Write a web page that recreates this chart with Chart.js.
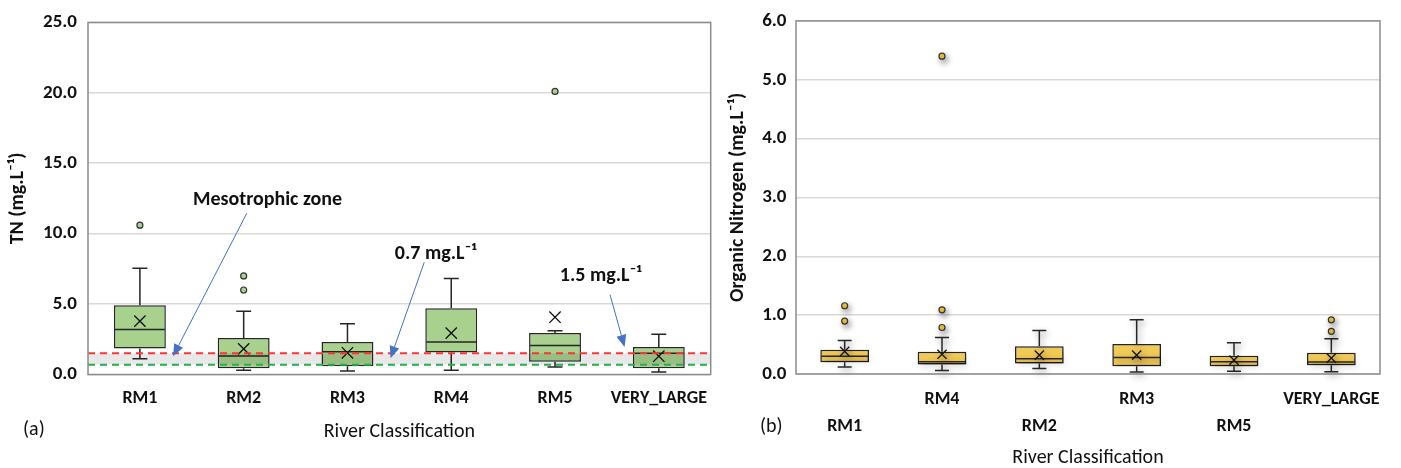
<!DOCTYPE html>
<html>
<head>
<meta charset="utf-8">
<script src="https://cdn.jsdelivr.net/npm/chart.js@4.4.1/dist/chart.umd.min.js"></script>
<style>
  html, body { margin: 0; padding: 0; background: #fff; }
  #wrap { position: relative; width: 1401px; height: 468px; overflow: hidden; }
  .panel { position: absolute; top: 0; height: 468px; }
  #left { left: 0; width: 720px; }
  #right { left: 720px; width: 681px; }
  .tag { position: absolute; font: 20px Carlito, Lato, sans-serif; color: #111; line-height: 24px; }
</style>
</head>
<body>
<div id="wrap">
  <div class="panel" id="left"><canvas id="tnChart"></canvas></div>
  <div class="panel" id="right"><canvas id="onChart"></canvas></div>
  <div class="tag" style="left:23px;top:416px">(a)</div>
  <div class="tag" style="left:760px;top:413px">(b)</div>
</div>
<script>
const FONT = 'Carlito, Lato, sans-serif';

// (a) total nitrogen, box plot stats per class
const tnCategories = ['RM1', 'RM2', 'RM3', 'RM4', 'RM5', 'VERY_LARGE'];
const tnMin    = [1.11, 0.30, 0.25, 0.30, 0.53, 0.18];
const tnQ1     = [1.85, 0.44, 0.58, 1.56, 0.90, 0.44];
const tnMedian = [3.20, 1.32, 1.61, 2.31, 2.06, 1.51];
const tnQ3     = [4.92, 2.59, 2.31, 4.70, 2.94, 1.96];
const tnMax    = [7.55, 4.49, 3.61, 6.82, 3.11, 2.85];
const tnMean   = [3.79, 1.82, 1.54, 2.94, 4.07, 1.30];
const tnOutliers = [[10.6], [7.0, 6.0], [], [], [20.1], []];
const tnTicks = [0, 5, 10, 15, 20, 25];
const tnZone = [0.7, 1.5];   // mesotrophic zone limits

// (b) organic nitrogen
const onCategories = ['RM1', 'RM4', 'RM2', 'RM3', 'RM5', 'VERY_LARGE'];
const onLabelRow = [2, 1, 2, 1, 2, 1];
const onMin    = [0.12, 0.06, 0.095, 0.035, 0.045, 0.04];
const onQ1     = [0.20, 0.16, 0.18, 0.13, 0.13, 0.15];
const onMedian = [0.30, 0.21, 0.26, 0.28, 0.21, 0.205];
const onQ3     = [0.41, 0.38, 0.47, 0.51, 0.31, 0.36];
const onMax    = [0.57, 0.62, 0.74, 0.92, 0.53, 0.60];
const onMean   = [0.385, 0.335, 0.32, 0.32, 0.235, 0.27];
const onOutliers = [[1.16, 0.90], [5.40, 1.09, 0.79], [], [], [], [0.92, 0.725]];
const onTicks = [0, 1, 2, 3, 4, 5, 6];

// callouts on panel (a), in [category index, value]
const tnNotes = [
  { text: 'Mesotrophic zone', at: [1.23, 12.4], from: [1.03, 11.45], to: [0.32, 1.30] },
  { text: '0.7 mg.L\u207B\u00B9', at: [2.85, 8.55], from: [2.74, 7.97], to: [2.415, 1.16] },
  { text: '1.5 mg.L\u207B\u00B9', at: [4.44, 7.0], from: [4.53, 5.67], to: [4.67, 1.96] }
];

function boxDatasets(q1, q3, mean, outliers, fill, dot, xr) {
  const sets = [
    { type: 'bar', data: q1.map((v, i) => [v, q3[i]]), backgroundColor: fill,
      borderColor: '#262626', borderWidth: 1.5, borderSkipped: false,
      barPercentage: 0.5, categoryPercentage: 1, order: 3 },
    { type: 'line', data: mean, showLine: false, pointStyle: 'crossRot', pointRadius: xr,
      pointBorderColor: '#111', pointBorderWidth: 1.3, order: 1 }
  ];
  // one point series per outlier rank, aligned to categories
  const most = Math.max(...outliers.map(l => l.length));
  for (let k = 0; k < most; k++) {
    sets.push({ type: 'line', data: outliers.map(l => l[k] ?? null), showLine: false,
      pointStyle: 'circle', pointRadius: 3, pointBackgroundColor: dot,
      pointBorderColor: '#333', pointBorderWidth: 1.2, order: 2 });
  }
  return sets;
}

// whiskers + median, drawn right after the boxes
function whiskerPlugin(min, max, median, q1, q3, cap, shadow) {
  return {
    id: 'whiskers',
    beforeDatasetsDraw(chart) {
      if (!shadow) return;
      const ctx = chart.ctx;
      ctx.save();
      ctx.shadowColor = 'rgba(0,0,0,0.45)';
      ctx.shadowBlur = 6;
      ctx.shadowOffsetX = 2;
      ctx.shadowOffsetY = 3;
    },
    afterDatasetDraw(chart, args) {
      if (args.meta.type !== 'bar') return;
      const ctx = chart.ctx, ys = chart.scales.y;
      ctx.save();
      ctx.strokeStyle = '#262626';
      ctx.lineWidth = 1.5;
      args.meta.data.forEach((el, i) => {
        const x = el.x, hw = el.width / 2;
        ctx.beginPath();
        ctx.moveTo(x, ys.getPixelForValue(q3[i]));
        ctx.lineTo(x, ys.getPixelForValue(max[i]));
        ctx.moveTo(x - cap / 2, ys.getPixelForValue(max[i]));
        ctx.lineTo(x + cap / 2, ys.getPixelForValue(max[i]));
        ctx.moveTo(x, ys.getPixelForValue(q1[i]));
        ctx.lineTo(x, ys.getPixelForValue(min[i]));
        ctx.moveTo(x - cap / 2, ys.getPixelForValue(min[i]));
        ctx.lineTo(x + cap / 2, ys.getPixelForValue(min[i]));
        ctx.moveTo(x - hw + 1, ys.getPixelForValue(median[i]));
        ctx.lineTo(x + hw - 1, ys.getPixelForValue(median[i]));
        ctx.stroke();
      });
      ctx.restore();
    },
    afterDatasetsDraw(chart) {
      if (shadow) chart.ctx.restore();
    },
    afterDraw(chart) {
      const { ctx, chartArea: a } = chart;
      ctx.save();
      ctx.strokeStyle = '#8c8c8c';
      ctx.lineWidth = 1.5;
      ctx.strokeRect(a.left, a.top, a.right - a.left, a.bottom - a.top);
      ctx.restore();
    }
  };
}

const zonePlugin = {
  id: 'zone',
  afterDatasetsDraw(chart) {
    const { ctx, chartArea: a, scales: { x, y } } = chart;
    const yLo = y.getPixelForValue(tnZone[0]), yHi = y.getPixelForValue(tnZone[1]);
    ctx.save();
    ctx.fillStyle = 'rgba(0,0,0,0.09)';
    ctx.fillRect(a.left, yHi, a.right - a.left, yLo - yHi);
    ctx.lineWidth = 2;
    ctx.setLineDash([7, 5]);
    ctx.strokeStyle = '#ff3333';
    ctx.beginPath(); ctx.moveTo(a.left, yHi); ctx.lineTo(a.right, yHi); ctx.stroke();
    ctx.strokeStyle = '#22b04b';
    ctx.beginPath(); ctx.moveTo(a.left, yLo); ctx.lineTo(a.right, yLo); ctx.stroke();
    ctx.setLineDash([]);

    ctx.font = 'bold 20px ' + FONT;
    ctx.textAlign = 'center';
    ctx.textBaseline = 'middle';
    tnNotes.forEach(n => {
      ctx.fillStyle = '#111';
      ctx.fillText(n.text, x.getPixelForValue(n.at[0]), y.getPixelForValue(n.at[1]));
      const x0 = x.getPixelForValue(n.from[0]), y0 = y.getPixelForValue(n.from[1]);
      const x1 = x.getPixelForValue(n.to[0]), y1 = y.getPixelForValue(n.to[1]);
      const ang = Math.atan2(y1 - y0, x1 - x0), hl = 12, hw = 5;
      const bx = x1 - hl * Math.cos(ang), by = y1 - hl * Math.sin(ang);
      ctx.strokeStyle = '#4472c4';
      ctx.fillStyle = '#4472c4';
      ctx.lineWidth = 1;
      ctx.beginPath(); ctx.moveTo(x0, y0); ctx.lineTo(bx, by); ctx.stroke();
      ctx.beginPath();
      ctx.moveTo(x1, y1);
      ctx.lineTo(bx + hw * Math.sin(ang), by - hw * Math.cos(ang));
      ctx.lineTo(bx - hw * Math.sin(ang), by + hw * Math.cos(ang));
      ctx.closePath();
      ctx.fill();
    });
    ctx.restore();
  }
};

function scalesFor(ticksArr, yTitle, yWidth, yPad, xHeight, xPad, xLine, titlePad) {
  return {
    x: {
      offset: true,
      grid: { display: false },
      border: { display: false },
      ticks: { color: '#111', autoSkip: false, maxRotation: 0, padding: xPad,
               font: { family: FONT, size: 18, weight: 'bold', lineHeight: xLine } },
      title: { display: true, text: 'River Classification', color: '#111',
               font: { family: FONT, size: 20 }, padding: { top: 0, bottom: titlePad } },
      afterFit(s) { s.height = xHeight; s.paddingLeft = 0; s.paddingRight = 0; }
    },
    y: {
      min: ticksArr[0],
      max: ticksArr[ticksArr.length - 1],
      afterBuildTicks(s) { s.ticks = ticksArr.map(v => ({ value: v })); },
      grid: { color: '#d9d9d9', lineWidth: 1.5, drawTicks: false },
      border: { display: false },
      ticks: { color: '#111', padding: yPad, font: { family: FONT, size: 19, weight: 'bold' },
               callback: v => Number(v).toFixed(1) },
      title: { display: true, text: yTitle, color: '#111',
               font: { family: FONT, size: 20, weight: 'bold' }, padding: { top: 6, bottom: 0 } },
      afterFit(s) { s.width = yWidth; }
    }
  };
}

new Chart(document.getElementById('tnChart'), {
  data: {
    labels: tnCategories,
    datasets: boxDatasets(tnQ1, tnQ3, tnMean, tnOutliers, '#a9d18e', '#a9d18e', 8)
  },
  options: {
    responsive: true,
    maintainAspectRatio: false,
    animation: false,
    layout: { padding: { top: 19, right: 6, left: 0, bottom: 0 } },
    plugins: { legend: { display: false }, tooltip: { enabled: false } },
    scales: scalesFor(tnTicks, 'TN (mg.L\u207B\u00B9)', 88, 11, 93.5, 5.5, 1.2, 24)
  },
  plugins: [whiskerPlugin(tnMin, tnMax, tnMedian, tnQ1, tnQ3, 15, false), zonePlugin]
});

new Chart(document.getElementById('onChart'), {
  data: {
    labels: onCategories.map((c, i) => onLabelRow[i] === 2 ? ['', c] : [c]),
    datasets: boxDatasets(onQ1, onQ3, onMean, onOutliers, '#f1c955', '#f5c842', 6.5)
  },
  options: {
    responsive: true,
    maintainAspectRatio: false,
    animation: false,
    layout: { padding: { top: 16, right: 21, left: 0, bottom: 0 } },
    plugins: { legend: { display: false }, tooltip: { enabled: false } },
    scales: scalesFor(onTicks, 'Organic Nitrogen (mg.L\u207B\u00B9)', 76, 9.5, 94, 3.5, 1.5, -2)
  },
  plugins: [whiskerPlugin(onMin, onMax, onMedian, onQ1, onQ3, 14, true)]
});
</script>
</body>
</html>
